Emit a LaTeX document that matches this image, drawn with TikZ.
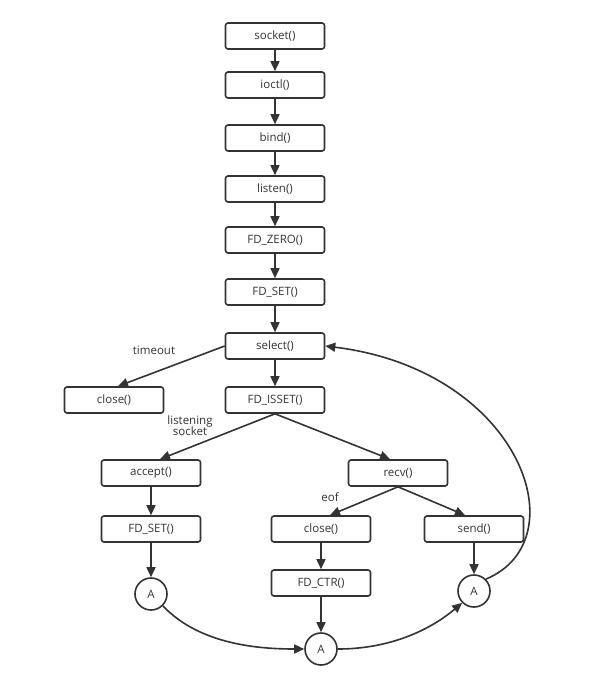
\documentclass[tikz,border=0pt]{standalone}
\usepackage{fontspec}
\setmainfont{Open Sans}
\usetikzlibrary{arrows.meta}
\definecolor{ink}{HTML}{333333}
\tikzset{
  box/.style={draw=ink, line width=1.6pt, rounded corners=2.5pt, minimum width=99pt, minimum height=26pt, inner sep=0pt, text=ink, font=\fontsize{11.5}{13}\selectfont},
  conn/.style={circle, draw=ink, line width=1.6pt, minimum size=32pt, inner sep=0pt, text=ink, font=\fontsize{11.5}{13}\selectfont},
  arr/.style={draw=ink, line width=1.6pt, -{Triangle[length=10pt,width=9pt]}},
  lbl/.style={text=ink, font=\fontsize{11.5}{13}\selectfont, inner sep=0pt, align=center}
}
\begin{document}
\begin{tikzpicture}[x=1pt,y=-1pt]
\useasboundingbox (0,0) rectangle (592,687);
\node[box] (socket) at (275,36) {socket()};
\node[box] (ioctl) at (275,85) {ioctl()};
\node[box] (bind) at (275,138) {bind()};
\node[box] (listen) at (275,189) {listen()};
\node[box] (fdzero) at (275,240) {FD\_ZERO()};
\node[box] (fdset) at (275,292) {FD\_SET()};
\node[box] (select) at (275,346) {select()};
\node[box] (close1) at (114,400) {close()};
\node[box] (fdisset) at (275,400) {FD\_ISSET()};
\node[box] (accept) at (151,473) {accept()};
\node[box] (recv) at (398,473) {recv()};
\node[box] (fdset2) at (151,529) {FD\_SET()};
\node[box] (close2) at (321,529) {close()};
\node[box] (send) at (474,529) {send()};
\node[box] (fdctr) at (321,583) {FD\_CTR()};
\node[conn] (a1) at (151,594) {A};
\node[conn] (a2) at (321,649) {A};
\node[conn] (a3) at (474,591) {A};

\node[lbl] (ltimeout) at (154,350) {timeout};
\node[lbl] (llisten) at (190,426) {listening\\[-2pt]socket};
\node[lbl] (leof) at (330,497) {eof};

\draw[arr] (socket) -- (ioctl);
\draw[arr] (ioctl) -- (bind);
\draw[arr] (bind) -- (listen);
\draw[arr] (listen) -- (fdzero);
\draw[arr] (fdzero) -- (fdset);
\draw[arr] (fdset) -- (select);
\draw[arr] (select.west) -- (close1.north -| 118,0);
\draw[arr] (select) -- (fdisset);
\draw[arr] (fdisset.south) -- (accept.north -| 160,0);
\draw[arr] (fdisset.south) -- (recv.north -| 390,0);
\draw[arr] (recv.south) -- (close2.north -| 330,0);
\draw[arr] (recv.south) -- (send.north -| 465,0);
\draw[arr] (accept) -- (fdset2);
\draw[arr] (fdset2) -- (a1);
\draw[arr] (close2) -- (fdctr);
\draw[arr] (fdctr) -- (a2);
\draw[arr] (send) -- (a3);
\draw[arr] (a1.-45) .. controls (200,645) and (260,649) .. (a2.west);
\draw[arr] (a2.east) .. controls (390,649) and (430,630) .. (a3.-135);
\draw[arr] (a3.45) .. controls (580,540) and (520,370) .. (select.east);
\end{tikzpicture}
\end{document}
